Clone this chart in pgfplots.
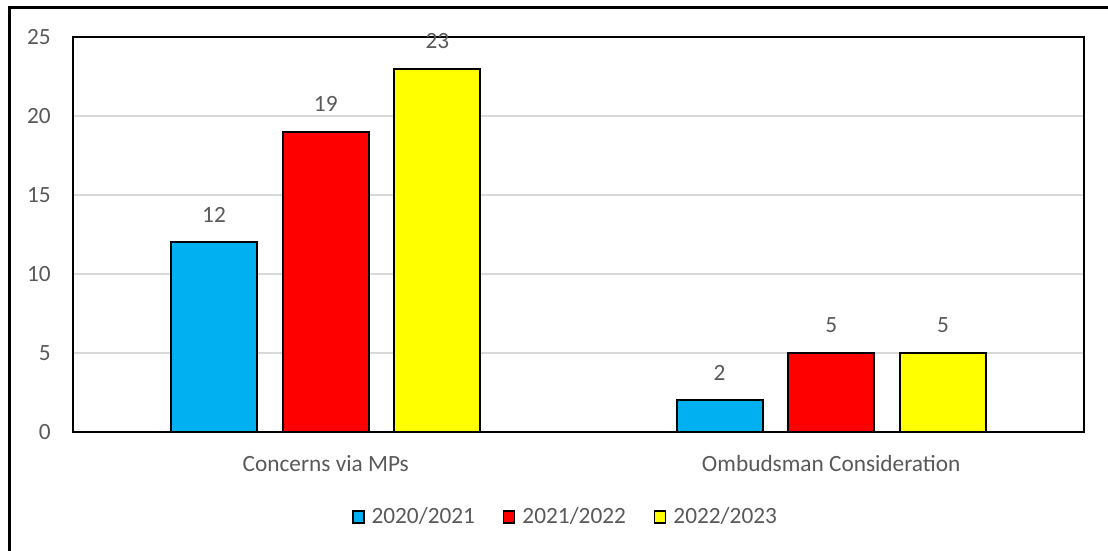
\documentclass[border=0pt]{standalone}
\usepackage{pgfplots}
\pgfplotsset{compat=1.18}
\usepackage{fontspec}
\setmainfont{Carlito}
\definecolor{txtgray}{HTML}{595959}
\definecolor{gridgray}{HTML}{D9D9D9}
\definecolor{barblue}{HTML}{00B0F0}
\definecolor{barred}{HTML}{FF0000}
\definecolor{baryellow}{HTML}{FFFF00}
\newcommand{\chartfont}{\fontsize{23.3pt}{27pt}\selectfont}
\begin{document}
\chartfont
\begin{tikzpicture}[x=1pt,y=1pt]
\useasboundingbox (0,0) rectangle (1108,551);
% chart frame (left and top edges)
\draw[line width=2.5pt] (9.5,-10) -- (9.5,543.5) -- (1120,543.5);
\begin{axis}[
  at={(73pt,119pt)}, anchor=south west,
  scale only axis, width=1011pt, height=395pt,
  xmin=-0.5, xmax=1.5, ymin=0, ymax=25,
  xtick={0,1}, xticklabels={Concerns via MPs, Ombudsman Consideration},
  ytick={0,5,10,15,20,25},
  major tick length=0pt,
  axis line style={line width=2.2pt, black},
  ymajorgrids, grid style={gridgray, line width=1.8pt},
  /pgf/number format/assume math mode=true,
  tick label style={txtgray, font=\chartfont},
  xticklabel style={inner sep=0pt, anchor=north, yshift=-23.5pt},
  yticklabel style={inner sep=0pt, anchor=east, xshift=-22pt},
  ybar, bar width=0.170,
  every axis plot/.append style={draw=black, line width=2pt},
  nodes near coords,
  every node near coord/.append style={txtgray, inner sep=0pt, anchor=south, yshift=19pt,
    font=\chartfont},
  legend columns=3,
  legend style={at={(0.486,-0.215)}, anchor=center, draw=none, fill=none,
    font=\chartfont, text=txtgray,
    nodes={inner sep=0pt},
    /tikz/every odd column/.append style={column sep=7pt},
    /tikz/every even column/.append style={column sep=27.7pt}},
  legend image code/.code={\draw[#1, line width=1.8pt] (0pt,-6pt) rectangle (11pt,6pt);},
]
\addplot[fill=barblue, bar shift=-0.221] coordinates {(0,12) (1,2)};
\addplot[fill=barred, bar shift=0] coordinates {(0,19) (1,5)};
\addplot[fill=baryellow, bar shift=0.221] coordinates {(0,23) (1,5)};
\legend{2020/2021, 2021/2022, 2022/2023}
\end{axis}
\end{tikzpicture}
\end{document}
